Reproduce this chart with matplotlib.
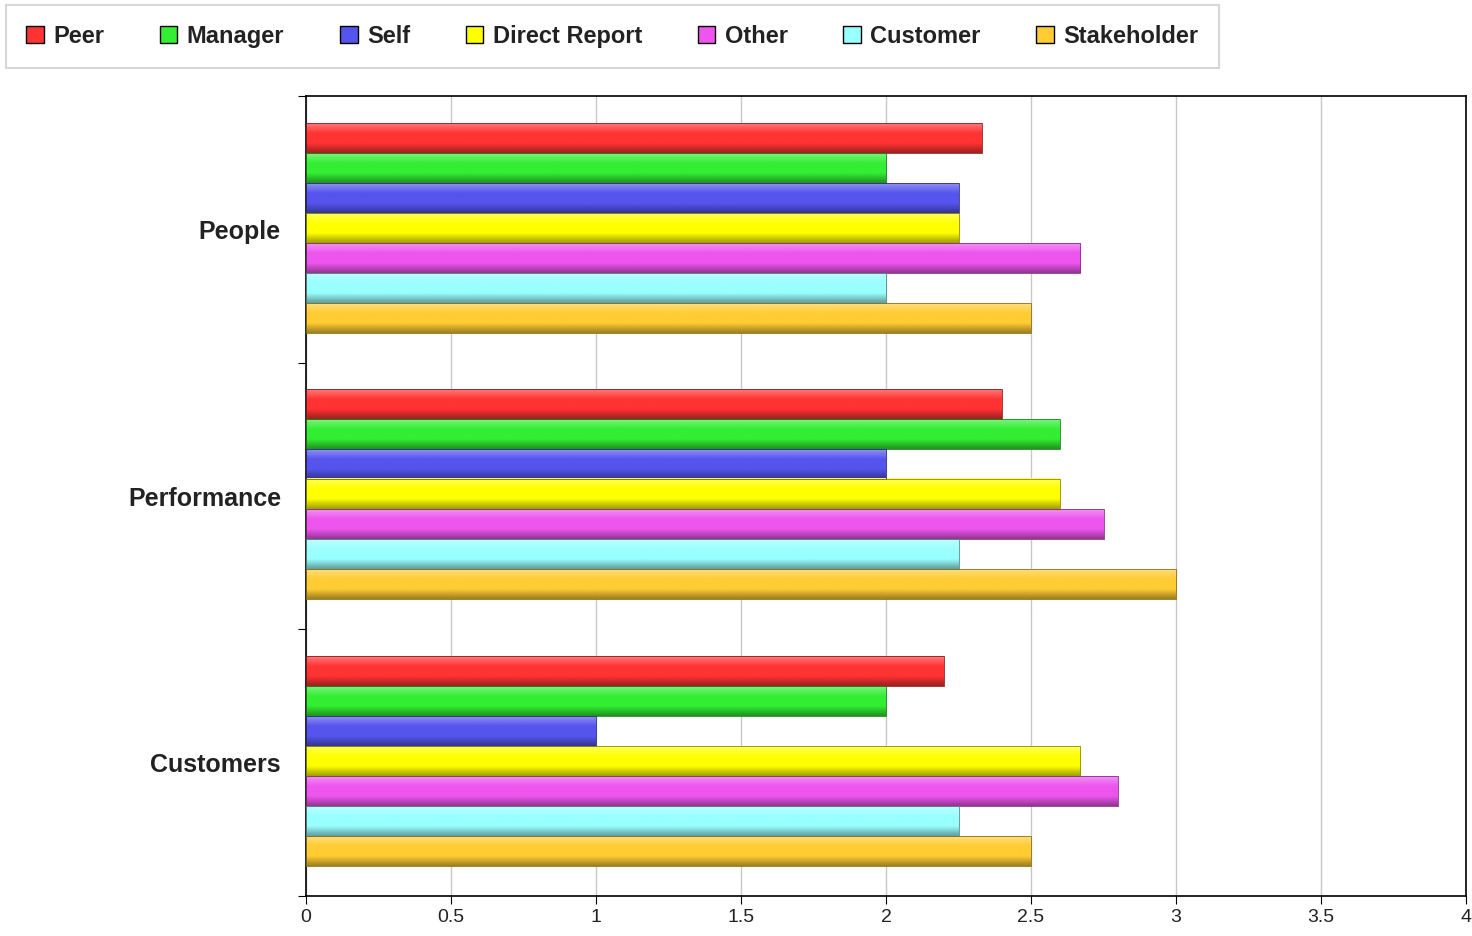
import numpy as np
import matplotlib.pyplot as plt
from matplotlib.colors import LinearSegmentedColormap, to_rgb
from matplotlib.patches import Patch

# data
categories = ['People', 'Performance', 'Customers']
series = ['Peer', 'Manager', 'Self', 'Direct Report', 'Other', 'Customer', 'Stakeholder']
peer = [2.33, 2.40, 2.20]
manager = [2.00, 2.60, 2.00]
self_ = [2.25, 2.00, 1.00]
direct_report = [2.25, 2.60, 2.67]
other = [2.67, 2.75, 2.80]
customer = [2.00, 2.25, 2.25]
stakeholder = [2.50, 3.00, 2.50]
values = [peer, manager, self_, direct_report, other, customer, stakeholder]
colors = ['#ff3333', '#33ee33', '#5555ee', '#ffff00', '#ee55ee', '#99ffff', '#ffcc33']

plt.rcParams['font.family'] = ['Liberation Sans', 'DejaVu Sans']

fig = plt.figure(figsize=(14.72, 9.36), dpi=100)
ax = fig.add_axes([306 / 1472, 1 - 896 / 936, 1160 / 1472, 800 / 936])


def lighten(c, f):
    r = np.array(to_rgb(c))
    return tuple(r + (1 - r) * f)


def darken(c, f):
    return tuple(np.array(to_rgb(c)) * f)


bar_h = 0.1125
offset = 0.1
grad = np.linspace(0, 1, 64)[:, None]

for s, (vals, col) in enumerate(zip(values, colors)):
    cmap = LinearSegmentedColormap.from_list(
        'g%d' % s, [lighten(col, 0.35), col, col, darken(col, 0.62)])
    for i, v in enumerate(vals):
        y0 = i + offset + s * bar_h
        ax.imshow(grad, cmap=cmap, aspect='auto', origin='upper',
                  extent=(0, v, y0 + bar_h, y0), zorder=2, interpolation='bilinear')
        ax.barh(y0 + bar_h / 2, v, height=bar_h, facecolor='none',
                edgecolor=darken(col, 0.55), linewidth=0.6, zorder=3)

ax.set_xlim(0, 4)
ax.set_ylim(3, 0)
ax.set_xticks(np.arange(0, 4.01, 0.5))
ax.set_xticklabels(['0', '0.5', '1', '1.5', '2', '2.5', '3', '3.5', '4'], fontsize=14, color='#222222')
ax.xaxis.grid(True, color='#c8c8c8', linewidth=1)
ax.set_axisbelow(True)

# category boundaries get the ticks, names sit at the centres
ax.set_yticks([0, 1, 2, 3])
ax.set_yticklabels([])
ax.set_yticks([0.5, 1.5, 2.5], minor=True)
ax.set_yticklabels(categories, minor=True, fontsize=18, fontweight='bold', color='#222222')
ax.tick_params(axis='y', which='minor', length=0, pad=18)
ax.tick_params(axis='y', which='major', length=6, direction='out')
ax.tick_params(axis='x', length=6, pad=3)
for sp in ax.spines.values():
    sp.set_color('black')
    sp.set_linewidth(1.2)

handles = [Patch(facecolor=c, edgecolor='black', linewidth=1) for c in colors]
leg = fig.legend(handles, series, loc='upper left', bbox_to_anchor=(6 / 1472, 1 - 5 / 936),
                 ncol=7, prop={'weight': 'bold', 'size': 17},
                 handlelength=0.75, handleheight=0.75, handletextpad=0.4,
                 columnspacing=2.35, frameon=True, fancybox=False,
                 borderpad=0.85, borderaxespad=0)
leg.get_frame().set_edgecolor('#cccccc')
leg.get_frame().set_linewidth(1.5)
for t in leg.get_texts():
    t.set_color('#222222')

fig.savefig('out.png', dpi=100)
